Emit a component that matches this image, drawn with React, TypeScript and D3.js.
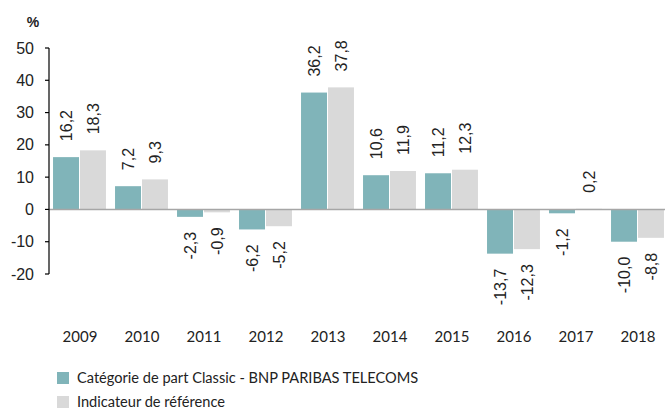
import React from "react";
import * as d3 from "d3";

const years = ["2009","2010","2011","2012","2013","2014","2015","2016","2017","2018"];
const fundValues = [16.2, 7.2, -2.3, -6.2, 36.2, 10.6, 11.2, -13.7, -1.2, -10.0];
const benchValues = [18.3, 9.3, -0.9, -5.2, 37.8, 11.9, 12.3, -12.3, 0.2, -8.8];
const yTicks = [50, 40, 30, 20, 10, 0, -10, -20];
const seriesNames = ["Catégorie de part Classic - BNP PARIBAS TELECOMS", "Indicateur de référence"];
const colors = ["#80B4B9", "#D9D9D9"];

const W = 665, H = 409;

export default function App() {
  const x = d3.scaleBand<string>().domain(years).range([49, 669]).paddingInner(0.13).paddingOuter(0.065);
  const y = d3.scaleLinear().domain([-20, 50]).range([274, 48]);
  const bw = x.bandwidth() / 2;
  const fmt = (v: number) => v.toFixed(1).replace(".", ",");
  const numFont = "'Liberation Sans', Arial, sans-serif";
  const txtFont = "Lato, 'Open Sans', sans-serif";
  const series = [fundValues, benchValues];
  return (
    <svg width={W} height={H} style={{ position: "absolute", left: 0, top: 0, background: "#fff" }}>
      {series.map((vals, si) =>
        vals.map((v, i) => {
          const x0 = (x(years[i]) as number) + si * bw;
          const top = y(Math.max(0, v));
          const bot = y(Math.min(0, v));
          const cx = x0 + bw / 2;
          const ly = v >= 0 ? top - 16 : bot + 15;
          return (
            <g key={`${si}-${i}`}>
              <rect x={x0} y={top} width={bw - 1} height={bot - top} fill={colors[si]} />
              <text
                transform={`translate(${cx + 5.5},${ly}) rotate(-90)`}
                textAnchor={v >= 0 ? "start" : "end"}
                fontFamily={numFont}
                fontSize={16}
                fill="#222"
              >{fmt(v)}</text>
            </g>
          );
        })
      )}
      <line x1={49} x2={665} y1={y(0)} y2={y(0)} stroke="#A6A6A6" strokeWidth={1.5} />
      <line x1={49} x2={49} y1={y(50)} y2={y(-20)} stroke="#000" strokeWidth={1.2} />
      {yTicks.map(t => (
        <g key={t}>
          <line x1={45} x2={49} y1={y(t)} y2={y(t)} stroke="#000" strokeWidth={1.2} />
          <text x={34} y={y(t) + 5.5} textAnchor="end" fontFamily={numFont} fontSize={16} fill="#222">{t}</text>
        </g>
      ))}
      <text x={33} y={27} textAnchor="middle" fontFamily={numFont} fontSize={14} fontWeight="bold" fill="#222">%</text>
      {years.map(yr => (
        <text key={yr} x={(x(yr) as number) + x.bandwidth() / 2} y={342} textAnchor="middle" fontFamily={txtFont} fontSize={15} fill="#222">{yr}</text>
      ))}
      {seriesNames.map((n, i) => (
        <g key={n}>
          <rect x={57} y={372 + i * 24} width={12} height={12} fill={colors[i]} />
          <text x={77} y={383 + i * 24} fontFamily={txtFont} fontSize={14.6} fill="#222">{n}</text>
        </g>
      ))}
    </svg>
  );
}
